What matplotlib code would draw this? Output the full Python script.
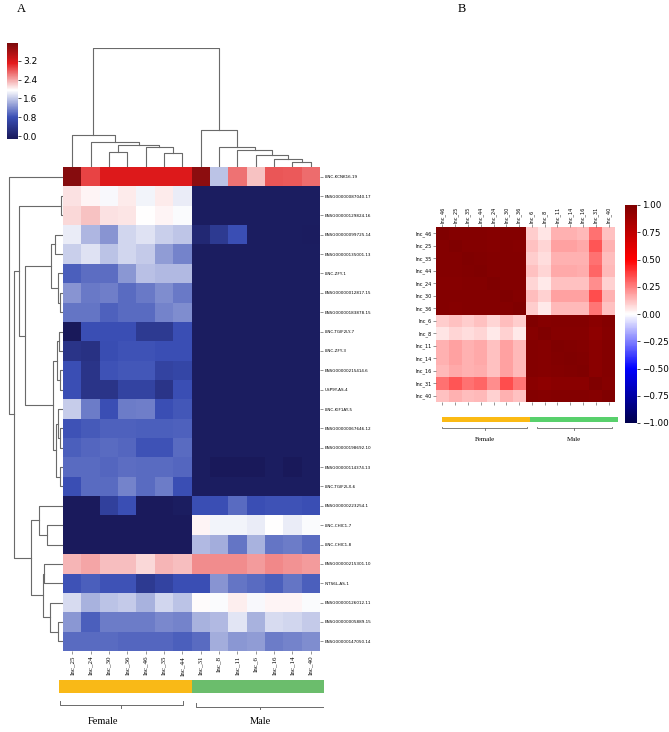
import numpy as np
import matplotlib
matplotlib.use("Agg")
import matplotlib.pyplot as plt
from matplotlib.colors import LinearSegmentedColormap

W, H = 669, 732

# ---------------- Panel A data ----------------
genes = ["LINC-KCNK16.19", "ENSG00000087040.17", "ENSG00000129824.16", "ENSG00000099725.14",
         "ENSG00000135001.13", "LINC-ZFY-1", "ENSG00000012817.15", "ENSG00000183878.15",
         "LINC-TGIF2LY-7", "LINC-ZFY-3", "ENSG00000215414.6", "USP9Y-AS-4",
         "LINC-KIF1AY-5", "ENSG00000067646.12", "ENSG00000198692.10", "ENSG00000114374.13",
         "LINC-TGIF2LX-6", "ENSG00000223254.1", "LINC-CHIC1-7", "LINC-CHIC1-8",
         "ENSG00000215301.10", "INTS6L-AS-1", "ENSG00000126012.11", "ENSG00000005889.15",
         "ENSG00000147050.14"]
samples_a = ["Inc_25", "Inc_24", "Inc_30", "Inc_36", "Inc_46", "Inc_35", "Inc_44",
             "Inc_31", "Inc_8", "Inc_11", "Inc_6", "Inc_16", "Inc_14", "Inc_40"]
groups = ["Female", "Male"]
group_sizes = [7, 7]

expr = [
    [3.85, 2.90, 3.15, 3.15, 3.15, 3.15, 3.15, 3.80, 1.55, 2.65, 2.25, 2.80, 2.78, 2.68],
    [2.10, 2.00, 1.90, 2.05, 1.88, 2.05, 1.82, -0.05, -0.05, -0.05, -0.05, -0.05, -0.05, -0.05],
    [2.15, 2.25, 2.10, 2.08, 1.95, 2.00, 1.92, -0.05, -0.05, -0.05, -0.05, -0.05, -0.05, -0.05],
    [1.82, 1.47, 1.25, 1.68, 1.76, 1.63, 1.58, 0.15, 0.45, 0.80, -0.05, -0.05, -0.05, -0.06],
    [1.63, 1.76, 1.55, 1.68, 1.60, 1.30, 1.15, -0.05, -0.05, -0.05, -0.05, -0.05, -0.05, -0.05],
    [0.90, 1.00, 1.00, 1.27, 1.54, 1.50, 1.50, -0.05, -0.05, -0.05, -0.05, -0.05, -0.05, -0.05],
    [1.25, 1.08, 1.12, 0.98, 1.08, 1.20, 1.08, -0.05, -0.05, -0.05, -0.05, -0.05, -0.05, -0.05],
    [1.05, 1.05, 0.92, 0.98, 0.98, 1.15, 1.20, -0.05, -0.05, -0.05, -0.05, -0.05, -0.05, -0.05],
    [-0.12, 0.80, 0.80, 0.80, 0.45, 0.45, 0.80, -0.05, -0.05, -0.05, -0.05, -0.05, -0.05, -0.05],
    [0.35, 0.30, 0.78, 0.82, 0.82, 0.80, 0.80, -0.05, -0.05, -0.05, -0.05, -0.05, -0.05, -0.05],
    [0.80, 0.35, 0.82, 0.85, 0.85, 0.60, 0.65, -0.05, -0.05, -0.05, -0.05, -0.05, -0.05, -0.05],
    [0.80, 0.35, 0.35, 0.60, 0.60, 0.35, 0.80, -0.05, -0.05, -0.05, -0.05, -0.05, -0.05, -0.05],
    [1.62, 1.10, 0.80, 1.10, 1.12, 0.80, 0.85, -0.05, -0.05, -0.05, -0.05, -0.05, -0.05, -0.05],
    [0.82, 0.88, 0.92, 0.92, 0.90, 0.90, 0.92, -0.05, -0.05, -0.05, -0.05, -0.05, -0.05, -0.05],
    [0.90, 0.95, 0.98, 0.95, 0.82, 0.82, 0.98, -0.05, -0.05, -0.05, -0.05, -0.05, -0.05, -0.05],
    [0.98, 0.98, 0.95, 1.00, 0.98, 0.98, 0.95, -0.05, -0.14, -0.12, -0.12, -0.05, -0.11, -0.05],
    [0.80, 0.98, 0.98, 1.15, 0.98, 1.10, 0.80, -0.05, -0.05, -0.05, -0.05, -0.05, -0.05, -0.05],
    [-0.10, -0.10, 0.55, 0.80, -0.10, -0.10, -0.05, 0.80, 0.80, 0.98, 0.80, 0.82, 0.82, 0.80],
    [-0.10, -0.10, -0.10, -0.10, -0.10, -0.10, -0.10, 2.00, 1.88, 1.88, 1.82, 1.95, 1.82, 1.93],
    [-0.10, -0.10, -0.10, -0.10, -0.10, -0.10, -0.10, 1.50, 1.42, 1.05, 1.45, 1.05, 1.10, 0.98],
    [2.32, 2.40, 2.28, 2.28, 2.15, 2.32, 2.28, 2.52, 2.52, 2.52, 2.45, 2.55, 2.50, 2.45],
    [0.82, 0.90, 0.82, 0.82, 0.45, 0.60, 0.80, 0.80, 1.25, 1.05, 0.98, 0.90, 1.05, 0.90],
    [1.72, 1.45, 1.55, 1.60, 1.45, 1.68, 1.55, 1.97, 1.93, 2.03, 1.90, 2.00, 2.00, 1.93],
    [1.27, 0.90, 1.10, 1.10, 1.10, 1.18, 1.15, 1.45, 1.50, 1.78, 1.45, 1.72, 1.68, 1.60],
    [0.98, 0.98, 0.98, 0.95, 0.95, 0.95, 0.90, 0.98, 1.42, 1.27, 1.30, 1.10, 1.15, 1.20],
]

# dendrograms: (left, right, height); leaves are indices in display order
col_tree = ((0, (1, ((2, 3, 1.3), (4, (5, 6, 1.23), 1.7), 1.9), 2.1), 2.7),
            (7, (8, (9, (10, (11, (12, 13, 0.43), 0.66), 1.0), 1.46), 1.66), 3.15), 10.1)

row_y = ((1, 2, 0.35),
         ((((3, 4, 1.5), (5, (6, 7, 0.6), 1.0), 2.2)),
          (((8, 9, 0.7), (10, 11, 0.5), 1.2), ((12, (13, 14, 0.5), 0.9), (15, 16, 0.6), 1.3), 1.8), 7.0),
         8.2)
row_x = ((17, (18, 19, 3.0), 4.5), ((20, 21, 3.5), (22, (23, 24, 0.9), 2.5), 3.8), 6.0)
row_tree = (0, (row_y, row_x, 9.0), 10.0)

cbar_a_ticks = [0.0, 0.8, 1.6, 2.4, 3.2]

# ---------------- Panel B data ----------------
samples_b = ["Inc_46", "Inc_25", "Inc_35", "Inc_44", "Inc_24", "Inc_30", "Inc_36",
             "Inc_6", "Inc_8", "Inc_11", "Inc_14", "Inc_16", "Inc_31", "Inc_40"]
corr_female = [
    [1.00, 0.98, 0.98, 0.98, 0.97, 0.98, 0.98],
    [0.98, 1.00, 0.98, 0.98, 0.97, 0.98, 0.97],
    [0.98, 0.98, 1.00, 0.99, 0.98, 0.98, 0.98],
    [0.98, 0.98, 0.99, 1.00, 0.98, 0.98, 0.98],
    [0.97, 0.97, 0.98, 0.98, 1.00, 0.98, 0.98],
    [0.98, 0.98, 0.98, 0.98, 0.98, 1.00, 0.98],
    [0.98, 0.97, 0.98, 0.98, 0.98, 0.98, 1.00],
]
corr_male = [
    [1.00, 0.97, 0.98, 0.98, 0.98, 0.96, 0.98],
    [0.97, 1.00, 0.97, 0.97, 0.97, 0.94, 0.97],
    [0.98, 0.97, 1.00, 0.99, 0.98, 0.96, 0.98],
    [0.98, 0.97, 0.99, 1.00, 0.99, 0.96, 0.98],
    [0.98, 0.97, 0.98, 0.99, 1.00, 0.96, 0.98],
    [0.96, 0.94, 0.96, 0.96, 0.96, 1.00, 0.97],
    [0.98, 0.97, 0.98, 0.98, 0.98, 0.97, 1.00],
]
corr_cross = [  # female rows x male columns
    [0.10, 0.05, 0.15, 0.15, 0.14, 0.28, 0.12],
    [0.12, 0.08, 0.18, 0.18, 0.17, 0.33, 0.15],
    [0.10, 0.07, 0.15, 0.15, 0.15, 0.28, 0.13],
    [0.12, 0.08, 0.17, 0.17, 0.16, 0.30, 0.14],
    [0.08, 0.04, 0.12, 0.12, 0.12, 0.22, 0.09],
    [0.13, 0.09, 0.18, 0.18, 0.18, 0.35, 0.15],
    [0.10, 0.04, 0.14, 0.14, 0.14, 0.27, 0.12],
]
cbar_b_ticks = [-1.0, -0.75, -0.5, -0.25, 0.0, 0.25, 0.5, 0.75, 1.0]

# ---------------- styling ----------------
group_colors_a = ["#F9B917", "#6BBD6C"]
group_colors_b = ["#FBBA14", "#58D06C"]
serif = ["Liberation Serif", "DejaVu Serif"]
line_col = "#6a6a6a"

fig = plt.figure(figsize=(W / 100, H / 100), dpi=100)


def px_axes(x0, y0, x1, y1):
    return fig.add_axes([x0 / W, 1 - y1 / H, (x1 - x0) / W, (y1 - y0) / H])


def dendro(node):
    if isinstance(node, int):
        return node + 0.5, 0.0, []
    l, r, h = node
    pl, hl, sl = dendro(l)
    pr, hr, sr = dendro(r)
    return (pl + pr) / 2, h, sl + sr + [([pl, pl, pr, pr], [hl, h, h, hr])]


vmin_a, vmax_a = -0.12, 3.95
def frac(v):
    return (v - vmin_a) / (vmax_a - vmin_a)
cmap_a = LinearSegmentedColormap.from_list(
    "expr", [(0.0, "#19195a"), (frac(0.8), "#3a4fb5"), (frac(1.95), "#ffffff"),
             (frac(3.1), "#e31a1c"), (1.0, "#7a0a0c")])

# ---------------- Panel A ----------------
data_a = np.array(expr)
nr, nc = data_a.shape

ax_h = px_axes(63, 167, 320, 651)
mesh = ax_h.pcolormesh(data_a, cmap=cmap_a, vmin=vmin_a, vmax=vmax_a)
ax_h.set_xlim(0, nc)
ax_h.set_ylim(nr, 0)
ax_h.set_xticks(np.arange(nc) + 0.5)
ax_h.set_xticklabels(samples_a, rotation=90, fontsize=5, family=serif)
ax_h.set_yticks(np.arange(nr) + 0.5)
ax_h.set_yticklabels(genes, fontsize=3.0)
ax_h.yaxis.tick_right()
ax_h.tick_params(length=2, width=0.4, pad=1.5, color="#444444")
for s in ax_h.spines.values():
    s.set_visible(False)

# column dendrogram
ax_cd = px_axes(63, 48, 320, 167)
_, top_h, segs = dendro(col_tree)
for xs, ys in segs:
    ax_cd.plot(xs, ys, color=line_col, lw=0.8)
ax_cd.set_xlim(0, nc)
ax_cd.set_ylim(0, top_h)
ax_cd.axis("off")

# row dendrogram
ax_rd = px_axes(8, 167, 63, 651)
_, top_r, segs = dendro(row_tree)
for ps, hs in segs:
    ax_rd.plot(hs, ps, color=line_col, lw=0.8)
ax_rd.set_ylim(nr, 0)
ax_rd.set_xlim(top_r * 1.02, 0)
ax_rd.axis("off")

# colorbar A
ax_cb = px_axes(7, 43, 18, 139)
cb = fig.colorbar(mesh, cax=ax_cb, ticks=cbar_a_ticks)
cb.outline.set_visible(False)
cb.ax.tick_params(labelsize=6.5, length=2, width=0.5, pad=1.5)
cb.ax.set_yticklabels([f"{t:.1f}" for t in cbar_a_ticks])

# group bar A
starts = np.concatenate([[0], np.cumsum(group_sizes)[:-1]])
ax_g = px_axes(59, 680, 324, 693)
for st, sz, col in zip(starts, group_sizes, group_colors_a):
    ax_g.barh(0, sz, left=st, height=1, color=col, edgecolor="none")
ax_g.set_xlim(0, nc)
ax_g.set_ylim(-0.5, 0.5)
ax_g.axis("off")

# brackets A
ax_br = px_axes(59, 698, 324, 732)
ax_br.set_xlim(0, nc)
ax_br.set_ylim(0, 1)
ax_br.axis("off")
for i, (st, sz, name) in enumerate(zip(starts, group_sizes, groups)):
    lo = st + (0.05 if i == 0 else 0.25)
    hi = st + sz - (0.45 if i == 0 else 0.02)
    yb = 0.8 if i == 0 else 0.75
    ax_br.plot([lo, lo, hi, hi], [yb + 0.1, yb, yb, yb + 0.1], color=line_col, lw=0.7)
    mid = (lo + hi) / 2
    ax_br.plot([mid, mid], [yb, yb - 0.08], color=line_col, lw=0.7)
    tx = mid - (1.0 if i == 0 else 0.0)
    ax_br.text(tx, 0.3, name, ha="center", va="center", fontsize=7.5, family=serif)

# ---------------- Panel B ----------------
cf = np.array(corr_female)
cm_ = np.array(corr_male)
cx = np.array(corr_cross)
corr = np.block([[cf, cx], [cx.T, cm_]])
nb = corr.shape[0]

ax_b = px_axes(436, 227, 615, 402)
mesh_b = ax_b.pcolormesh(corr, cmap="seismic", vmin=-1, vmax=1)
ax_b.set_xlim(0, nb)
ax_b.set_ylim(nb, 0)
ax_b.set_xticks(np.arange(nb) + 0.5)
ax_b.set_xticklabels(samples_b, rotation=90, fontsize=3.6)
ax_b.set_yticks(np.arange(nb) + 0.5)
ax_b.set_yticklabels(samples_b, fontsize=3.6)
ax_b.tick_params(axis="x", top=True, bottom=True, labeltop=True, labelbottom=False)
ax_b.tick_params(length=2, width=0.4, pad=1.2, color="#444444")
for s in ax_b.spines.values():
    s.set_visible(False)

ax_cbb = px_axes(625, 205, 637, 423)
cbb = fig.colorbar(mesh_b, cax=ax_cbb, ticks=cbar_b_ticks)
cbb.outline.set_visible(False)
cbb.ax.tick_params(labelsize=6.3, length=2.5, width=0.5, pad=1.0)
cbb.ax.set_yticklabels([f"{t:.2f}".replace("-", "\u2212") for t in cbar_b_ticks])

ax_gb = px_axes(442, 417, 618, 422)
for st, sz, col in zip(starts, group_sizes, group_colors_b):
    ax_gb.barh(0, sz, left=st, height=1, color=col, edgecolor="none")
ax_gb.set_xlim(0, nb)
ax_gb.set_ylim(-0.5, 0.5)
ax_gb.axis("off")

ax_brb = px_axes(442, 424, 618, 446)
ax_brb.set_xlim(0, nb)
ax_brb.set_ylim(0, 1)
ax_brb.axis("off")
for i, (st, sz, name) in enumerate(zip(starts, group_sizes, groups)):
    lo = st + (0.02 if i == 0 else 0.55)
    hi = st + sz - (0.2 if i == 0 else 0.5)
    ax_brb.plot([lo, lo, hi, hi], [0.88, 0.8, 0.8, 0.88], color=line_col, lw=0.6)
    mid = (lo + hi) / 2
    ax_brb.plot([mid, mid], [0.8, 0.74], color=line_col, lw=0.6)
    ax_brb.text(mid, 0.3, name, ha="center", va="center", fontsize=5, family=serif)

# panel letters
fig.text(21 / W, 1 - 9 / H, "A", fontsize=9, family=serif, ha="center", va="center")
fig.text(462 / W, 1 - 9 / H, "B", fontsize=9, family=serif, ha="center", va="center")

fig.savefig("out.png", dpi=100)
